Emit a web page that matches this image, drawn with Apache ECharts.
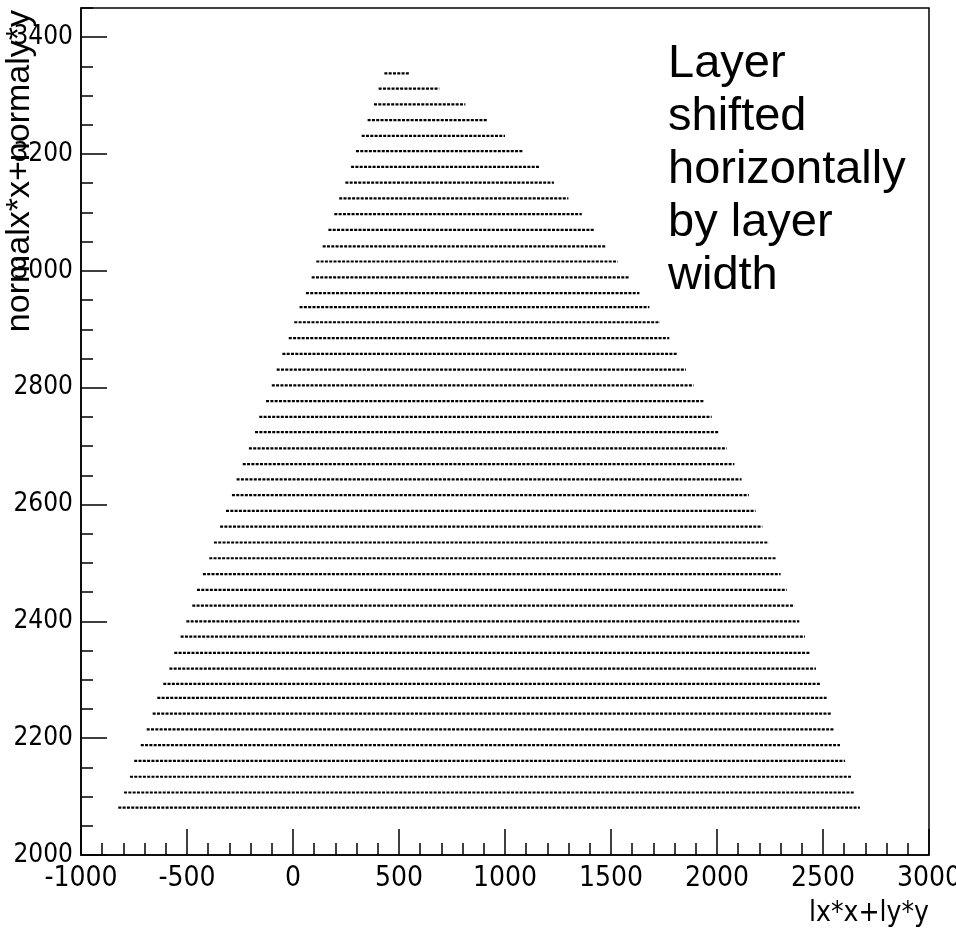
<!DOCTYPE html>
<html>
<head>
<meta charset="utf-8">
<script src="https://cdn.jsdelivr.net/npm/echarts@6/dist/echarts.min.js"></script>
<style>html,body{margin:0;padding:0;background:#fff;}#c{width:956px;height:930px;}</style>
</head>
<body>
<div id="c"></div>
<script>
// Row (layer) positions: y value, x start, x end
const rowY = [3338, 3312, 3285, 3258, 3231, 3205, 3178, 3151, 3124, 3097, 3070, 3042, 3016, 2989, 2962, 2938, 2912, 2885, 2858, 2831, 2804, 2777, 2750, 2724, 2696, 2669, 2643, 2616, 2589, 2562, 2535, 2508, 2481, 2454, 2427, 2400, 2374, 2346, 2319, 2293, 2269, 2242, 2215, 2188, 2161, 2134, 2107, 2081];
const rowXStart = [431, 404, 382, 352, 324, 297, 274, 247, 218, 195, 167, 140, 110, 88, 61, 31, 6, -20, -50, -77, -100, -127, -159, -179, -208, -237, -266, -288, -316, -344, -373, -395, -425, -453, -475, -503, -530, -560, -583, -612, -640, -662, -690, -718, -749, -769, -797, -824];
const rowXEnd = [549, 690, 813, 914, 1000, 1086, 1165, 1231, 1299, 1362, 1421, 1478, 1532, 1584, 1634, 1681, 1731, 1775, 1813, 1854, 1890, 1939, 1975, 2009, 2046, 2082, 2116, 2150, 2182, 2214, 2244, 2278, 2300, 2329, 2365, 2388, 2415, 2439, 2467, 2489, 2517, 2541, 2553, 2580, 2604, 2632, 2648, 2674];

const xTitle = 'lx*x+ly*y';
const yTitle = 'normalx*x+normaly*y';
const annotation = ['Layer', 'shifted', 'horizontally', 'by layer', 'width'];

const NARROW = '"Liberation Sans Narrow", "Arial Narrow", "DejaVu Sans Condensed", "Liberation Sans", sans-serif';
const SANS = '"Liberation Sans", Arial, sans-serif';

const chart = echarts.init(document.getElementById('c'), null, {renderer: 'canvas'});

const series = rowY.map((y, i) => ({
  type: 'line',
  data: [[rowXStart[i], y], [rowXEnd[i], y]],
  symbol: 'none',
  silent: true,
  animation: false,
  lineStyle: {color: '#000', width: 2.2, type: [3, 1.3]}
}));

const tickStyle = {color: '#000', width: 1.5};

chart.setOption({
  backgroundColor: '#fff',
  animation: false,
  grid: {left: 81, top: 8, right: 27, bottom: 75, containLabel: false, outerBoundsMode: 'none',
         show: true, borderColor: '#000', borderWidth: 1.5, backgroundColor: 'transparent'},
  xAxis: [{
    type: 'value', min: -1000, max: 3000, interval: 500,
    axisLine: {show: true, onZero: false, lineStyle: tickStyle},
    axisTick: {show: true, inside: true, length: 26, lineStyle: tickStyle},
    minorTick: {show: true, splitNumber: 5, length: 12, lineStyle: tickStyle},
    axisLabel: {color: '#000', fontFamily: NARROW, fontSize: 28, margin: 10, formatter: v => String(v)},
    splitLine: {show: false}
  }],
  yAxis: [{
    type: 'value', min: 2000, max: 3450, interval: 200,
    axisLine: {show: true, onZero: false, lineStyle: tickStyle},
    axisTick: {show: true, inside: true, length: 26, lineStyle: tickStyle},
    axisLabel: {color: '#000', fontFamily: NARROW, fontSize: 26, margin: 8, showMaxLabel: false, formatter: v => String(v)},
    splitLine: {show: false}
  }, {
    type: 'value', min: 2000, max: 3450, interval: 50, position: 'left',
    axisLine: {show: false, onZero: false},
    axisTick: {show: true, inside: true, length: 12, lineStyle: tickStyle},
    axisLabel: {show: false},
    splitLine: {show: false}
  }],
  graphic: [
    {type: 'text', x: 929, y: 914, silent: true,
     style: {text: xTitle, fill: '#000', font: '28px ' + NARROW, textAlign: 'right', textVerticalAlign: 'middle'}},
    {type: 'text', x: 20, y: 10, rotation: Math.PI / 2, silent: true,
     style: {text: yTitle, fill: '#000', font: '34px ' + SANS, textAlign: 'right', textVerticalAlign: 'middle'}},
    {type: 'text', x: 668, y: 38, silent: true,
     style: {text: annotation.join('\n'), fill: '#000', font: '47px ' + SANS, lineHeight: 53, textAlign: 'left', textVerticalAlign: 'top'}}
  ],
  series: series
});
</script>
</body>
</html>
